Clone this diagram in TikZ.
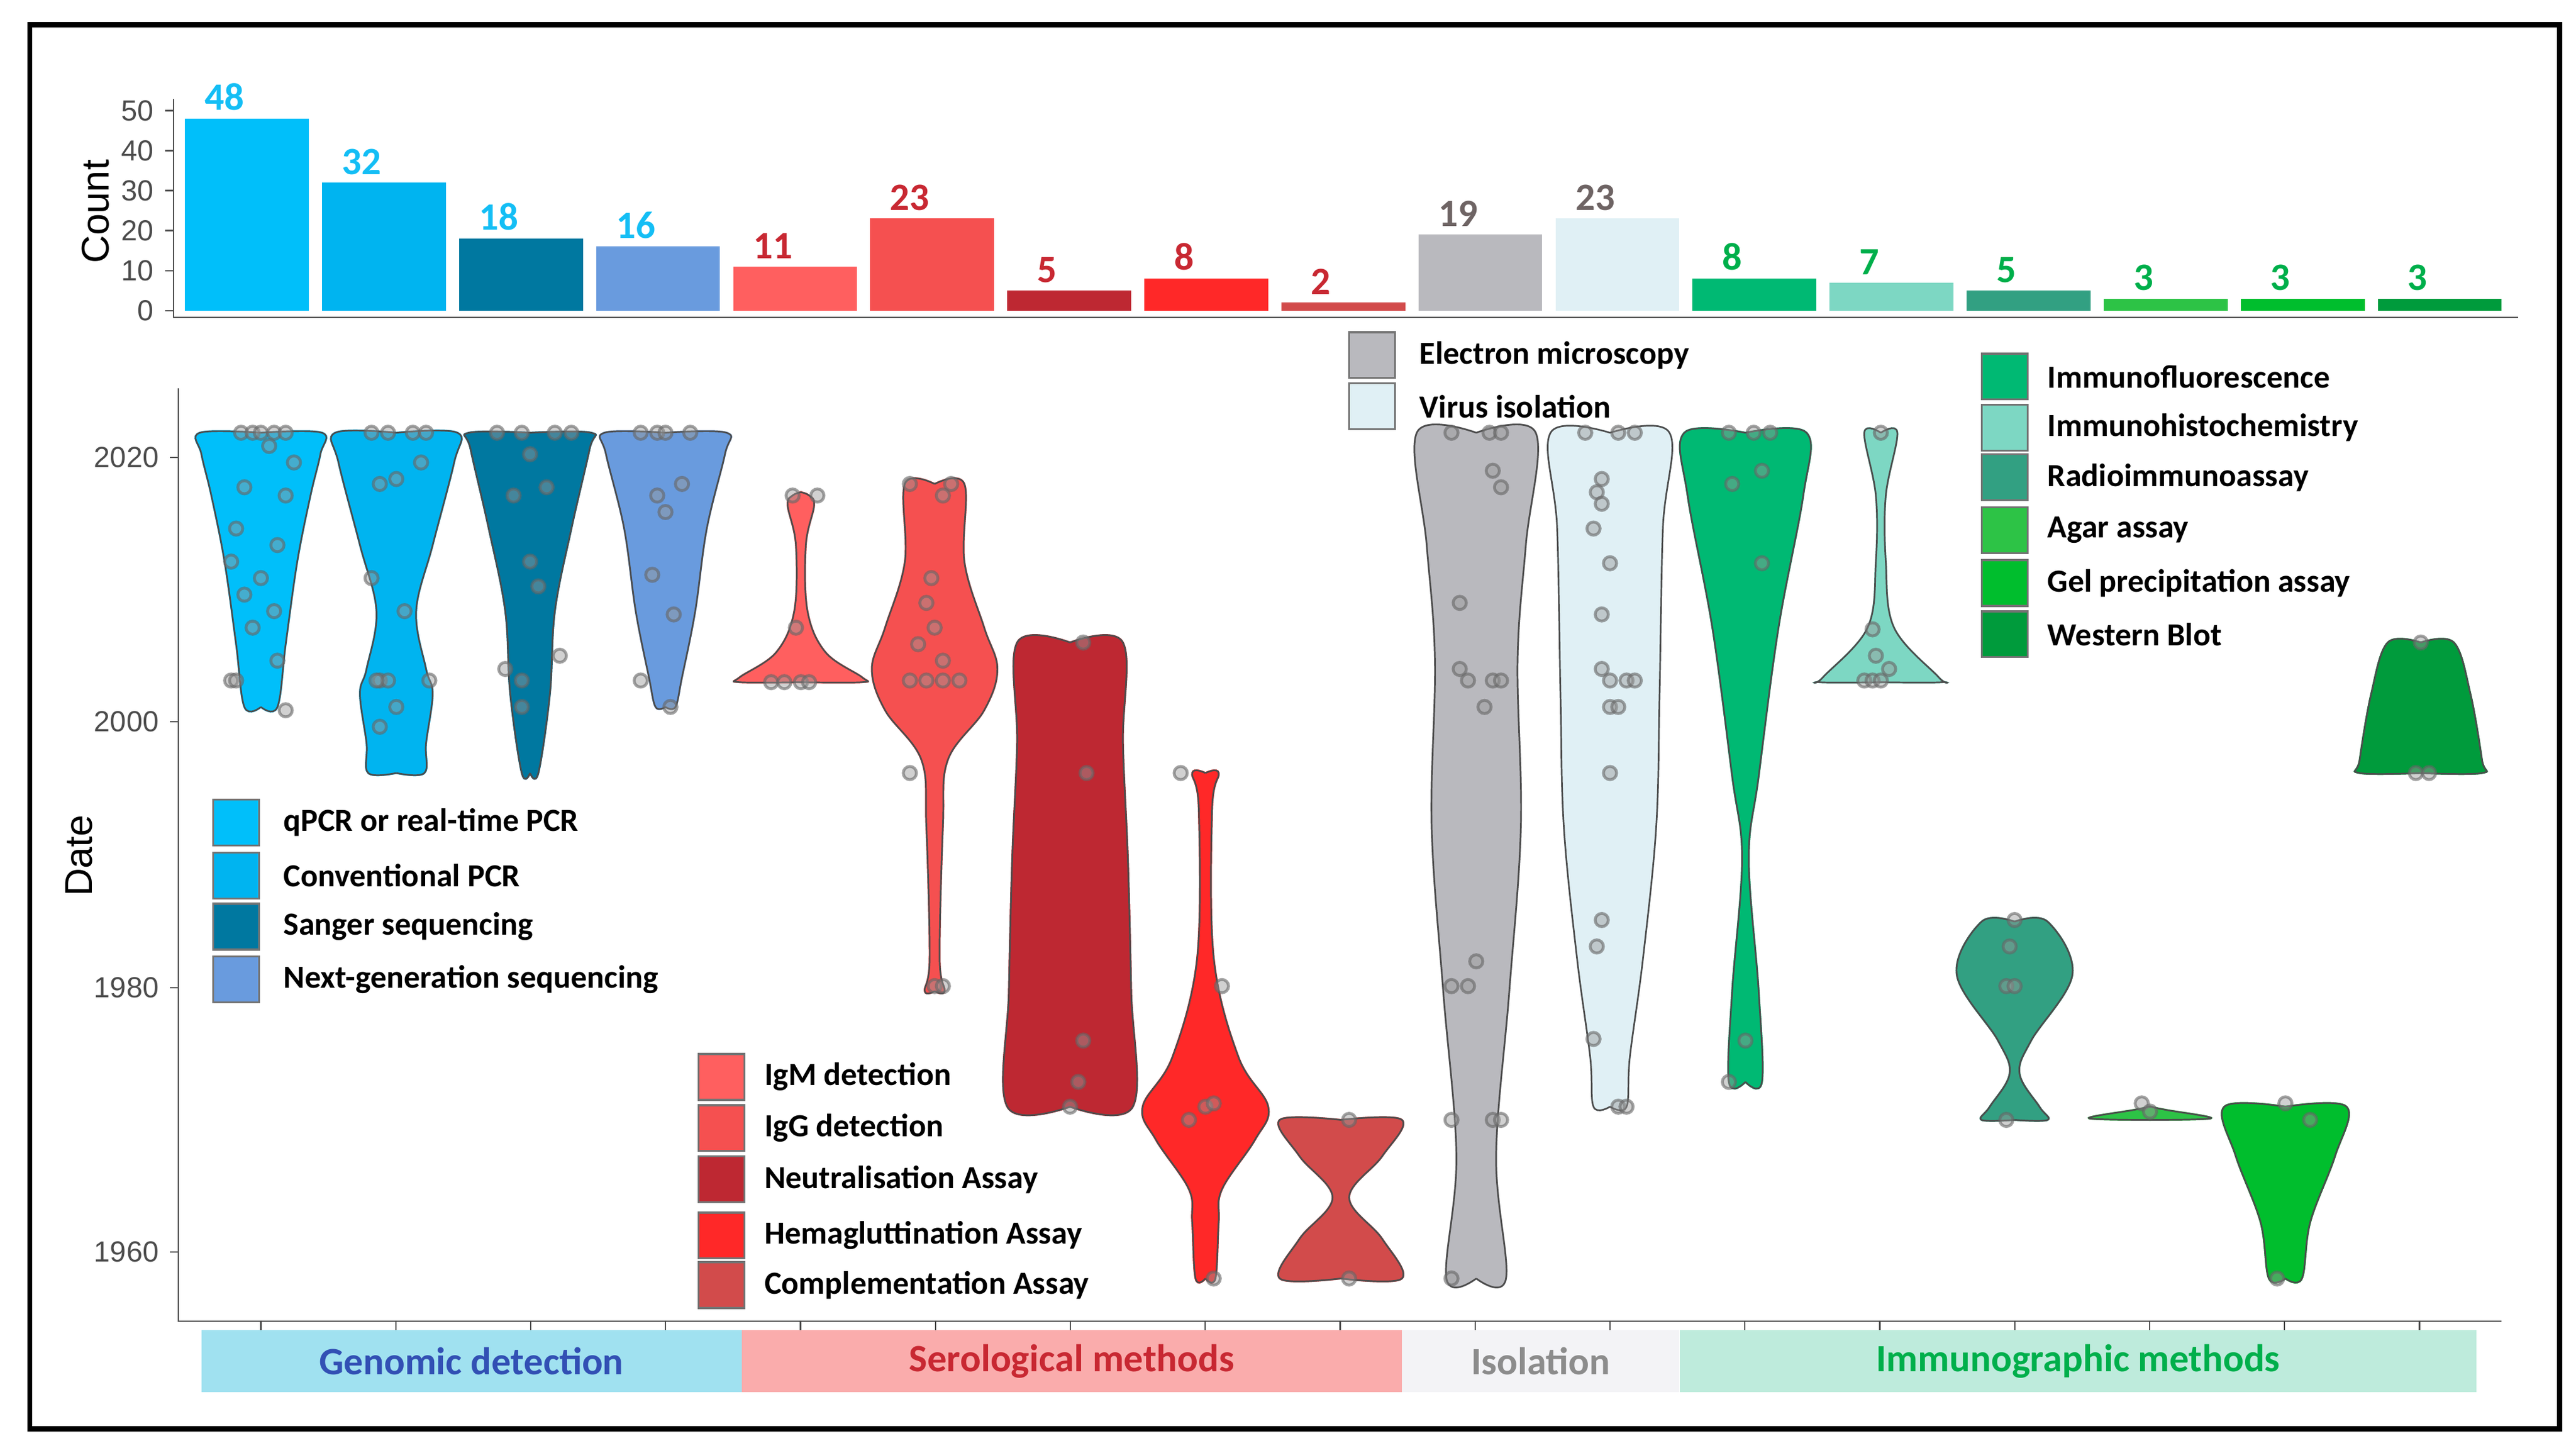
\documentclass[tikz,border=0pt]{standalone}
\usepackage{fontspec}
\setmainfont{Carlito}
\newfontfamily\axf{Liberation Sans}
\definecolor{gA}{RGB}{0,191,250}
\definecolor{gB}{RGB}{0,180,240}
\definecolor{gC}{RGB}{0,120,160}
\definecolor{gD}{RGB}{105,155,222}
\definecolor{sA}{RGB}{255,95,95}
\definecolor{sB}{RGB}{245,80,80}
\definecolor{sC}{RGB}{190,40,50}
\definecolor{sD}{RGB}{255,40,40}
\definecolor{sE}{RGB}{210,75,75}
\definecolor{iA}{RGB}{185,185,190}
\definecolor{iB}{RGB}{224,240,245}
\definecolor{mA}{RGB}{0,185,115}
\definecolor{mB}{RGB}{125,215,195}
\definecolor{mC}{RGB}{50,160,130}
\definecolor{mD}{RGB}{45,195,70}
\definecolor{mE}{RGB}{0,190,45}
\definecolor{mF}{RGB}{0,155,60}
\definecolor{labG}{RGB}{20,190,245}
\definecolor{labS}{RGB}{200,40,50}
\definecolor{labI}{RGB}{110,100,100}
\definecolor{labM}{RGB}{0,175,75}
\tikzset{
  vline/.style={draw=black!70, line width=0.5pt},
  jit/.style={fill=black!40, draw=black!60, fill opacity=0.45, draw opacity=0.6, line width=0.9pt},
  key/.style={draw=black!55, line width=0.6pt, minimum size=0.5cm, inner sep=0pt},
  keytext/.style={anchor=west, font=\bfseries, inner sep=0pt},
  vlab/.style={font=\large\bfseries, anchor=south},
  tick/.style={font=\axf\small, text=black!70, anchor=east},
  band/.style={minimum height=0.68cm, inner sep=0pt, font=\large\bfseries}
}
% center x, fill colour, right-half outline from top to bottom
\newcommand\violin[3]{%
  \foreach \s in {1,-1}{
    \filldraw[#2, line width=0.6pt, shift={(#1,0)}, xscale=\s] plot[smooth, tension=0.6] coordinates {#3} -- cycle;
  }
  \foreach \s in {1,-1}{
    \draw[vline, shift={(#1,0)}, xscale=\s] plot[smooth, tension=0.6] coordinates {#3};
  }}
\begin{document}
\begin{tikzpicture}[x=0.018cm, y=-0.018cm]
    \useasboundingbox (0,0) rectangle (1560,879.4);
    \draw[line width=1.6pt] (18,15) rectangle (1550,865);

    % counts
    \draw[black!70] (105,60) -- (105,192) -- (1525,192);
    \foreach \v in {0,10,...,50}
        \draw[black!70] (100,{188-\v*2.42}) -- (105,{188-\v*2.42}) node[tick, at start] {\v};
    \node[rotate=90, font=\axf\large] (count) at (58,128) {Count};
    \foreach \i/\v/\c/\t in {0/48/gA/labG,1/32/gB/labG,2/18/gC/labG,3/16/gD/labG,
        4/11/sA/labS,5/23/sB/labS,6/5/sC/labS,7/8/sD/labS,8/2/sE/labS,
        9/19/iA/labI,10/23/iB/labI,
        11/8/mA/labM,12/7/mB/labM,13/5/mC/labM,14/3/mD/labM,15/3/mE/labM,16/3/mF/labM}
    {
        \fill[\c] ({112+83*\i},188) rectangle ({187+83*\i},{188-\v*2.42});
        \node[vlab, text=\t] (n\i) at ({136+83*\i},{190-\v*2.42}) {\v};
    }

    % dates
    \draw[black!70] (108,235) -- (108,800) -- (1515,800);
    \foreach \y/\d in {277/2020,437/2000,598/1980,758/1960}
        \draw[black!70] (103,\y) -- (108,\y) node[tick, at start] {\d};
    \foreach \i in {0,...,16}
        \draw[black!70] ({158+81.7*\i},800) -- ({158+81.7*\i},806);
    \node[rotate=90, font=\axf\large] (date) at (48,518) {Date};

    \violin{158}{gA}{(0,262) (37,262) (36,275) (30,300) (22,340) (15,390) (10,428) (0,428)}
    \violin{240}{gB}{(0,262) (37,262) (35,280) (22,330) (12,370) (18,405) (22,420) (18,450) (17,468) (0,468)}
    \violin{321}{gC}{(0,262) (37,262) (36,272) (25,320) (15,370) (12,420) (5,468) (0,468)}
    \violin{403}{gD}{(0,262) (37,262) (36,275) (25,320) (18,370) (10,410) (6,428) (0,428)}
    \violin{485}{sA}{(0,298) (5,300) (8,306) (3,330) (4,370) (15,395) (37,410) (37,413) (0,413)}
    \violin{566}{sB}{(0,293) (18,293) (18,340) (30,380) (38,405) (30,430) (8,460) (5,500) (3,580) (6,600) (0,600)}
    \violin{648}{sC}{(0,389) (32,389) (32,450) (35,520) (37,600) (38,670) (0,670)}
    \violin{730}{sD}{(0,468) (8,468) (4,490) (5,580) (20,640) (38,670) (30,690) (10,720) (8,740) (6,774) (0,774)}
    \violin{812}{sE}{(0,678) (37,678) (25,700) (5,725) (25,750) (37,774) (0,774)}
    \violin{894}{iA}{(0,262) (36,262) (30,330) (25,400) (27,500) (20,600) (12,700) (18,774) (0,774)}
    \violin{975}{iB}{(0,262) (36,262) (32,320) (30,420) (28,500) (20,580) (12,640) (10,670) (0,670)}
    \violin{1057}{mA}{(0,262) (37,262) (35,300) (20,380) (8,470) (2,520) (8,600) (10,655) (0,655)}
    \violin{1139}{mB}{(0,262) (10,262) (3,300) (3,340) (8,380) (35,410) (37,413) (0,413)}
    \violin{1220}{mC}{(0,558) (20,558) (35,590) (10,630) (3,650) (15,670) (20,678) (0,678)}
    \violin{1302}{mD}{(0,670) (10,672) (37,677) (0,678)}
    \violin{1384}{mE}{(0,670) (37,670) (30,700) (15,740) (10,774) (0,774)}
    \violin{1466}{mF}{(0,389) (20,389) (30,420) (37,460) (37,468) (0,468)}

    % jittered points
    \foreach \x/\pts in {
        158/{-12/262,-5/262,0/262,8/262,15/262,5/270,20/280,-10/295,15/300,-15/320,10/330,-18/340,0/350,-10/360,8/370,-5/380,10/400,-18/412,-15/412,15/430},
        240/{-15/262,-5/262,10/262,18/262,0/290,-10/293,15/280,-15/350,5/370,-10/412,-5/412,-12/412,0/428,20/412,-10/440},
        321/{-20/262,-5/262,15/262,25/262,0/275,-10/300,10/295,0/340,5/355,-15/405,-5/412,18/397,-5/428},
        403/{-15/262,-5/262,0/262,15/262,10/293,-5/300,0/310,-8/348,5/372,-15/412,3/428},
        485/{-5/300,10/300,-3/380,-18/413,-10/413,0/413,5/413},
        566/{-15/293,10/293,5/300,-2/350,-5/365,0/380,-10/390,5/400,-15/412,-5/412,5/412,15/412,-15/468,0/597,5/597},
        648/{8/389,10/468,8/630,5/655,0/670},
        730/{-15/468,10/597,0/670,-10/678,5/668,5/774},
        812/{5/678,5/774},
        894/{-15/262,8/262,15/262,10/285,15/295,-10/365,-10/405,-5/412,10/412,15/412,5/428,0/582,-15/597,-5/597,-15/678,10/678,15/678,-15/774},
        975/{-15/262,5/262,15/262,-5/290,-8/298,-5/305,-10/320,0/341,-5/372,-5/405,0/412,10/412,15/412,0/428,5/428,0/468,-5/557,-8/573,-10/629,5/670,10/670},
        1057/{-10/262,5/262,15/262,-8/293,10/285,10/341,0/630,-10/655},
        1139/{0/262,-5/381,-3/397,-10/412,-5/412,0/412,5/405},
        1220/{0/557,-3/573,-5/597,0/597,-5/678},
        1302/{-5/668,0/673},
        1384/{0/668,15/678,-5/774},
        1466/{0/389,-3/468,5/468}}
        \foreach \dx/\dy in \pts
            \filldraw[jit] (\x+\dx,\dy) circle (4);

    % legends
    \foreach \n/\y/\c/\t in {kq/498/gA/qPCR or real-time PCR,kc/530/gB/Conventional PCR,
        ks/561/gC/Sanger sequencing,kn/593/gD/Next-generation sequencing}
    {
        \node[key, fill=\c] (\n) at (143,\y) {};
        \node[keytext] at ([xshift=0.25cm]\n.east) {\t};
    }
    \foreach \n/\y/\c/\t in {km/652/sA/IgM detection,kg/683/sB/IgG detection,
        kz/714/sC/Neutralisation Assay,kh/748/sD/Hemagluttination Assay,
        kt/778/sE/Complementation Assay}
    {
        \node[key, fill=\c] (\n) at (437,\y) {};
        \node[keytext] at ([xshift=0.2cm]\n.east) {\t};
    }
    \foreach \n/\y/\c/\t in {ke/215/iA/Electron microscopy,kv/246/iB/Virus isolation}
    {
        \node[key, fill=\c] (\n) at (831,\y) {};
        \node[keytext] at ([xshift=0.25cm]\n.east) {\t};
    }
    \foreach \n/\y/\c/\t in {kf/228/mA/Immunofluorescence,ki/259/mB/Immunohistochemistry,
        kr/289/mC/Radioimmunoassay,ka/321/mD/Agar assay,
        kp/353/mE/Gel precipitation assay,kw/384/mF/Western Blot}
    {
        \node[key, fill=\c] (\n) at (1214,\y) {};
        \node[keytext] at ([xshift=0.2cm]\n.east) {\t};
    }

    % method groups
    \node[band, fill={rgb,255:red,160;green,225;blue,240}, text={rgb,255:red,50;green,80;blue,180},
        minimum width=5.89cm] (genomic) at (285.5,824) {Genomic detection};
    \node[band, fill={rgb,255:red,250;green,172;blue,172}, text=labS,
        minimum width=7.2cm] (sero) at (649,824) {Serological methods};
    \node[band, fill={rgb,255:red,243;green,243;blue,246}, text=black!45,
        minimum width=3.02cm] (iso) at (933,824) {Isolation};
    \node[band, fill={rgb,255:red,190;green,235;blue,220}, text=labM,
        minimum width=8.69cm] (immuno) at (1258.5,824) {Immunographic methods};
\end{tikzpicture}
\end{document}
